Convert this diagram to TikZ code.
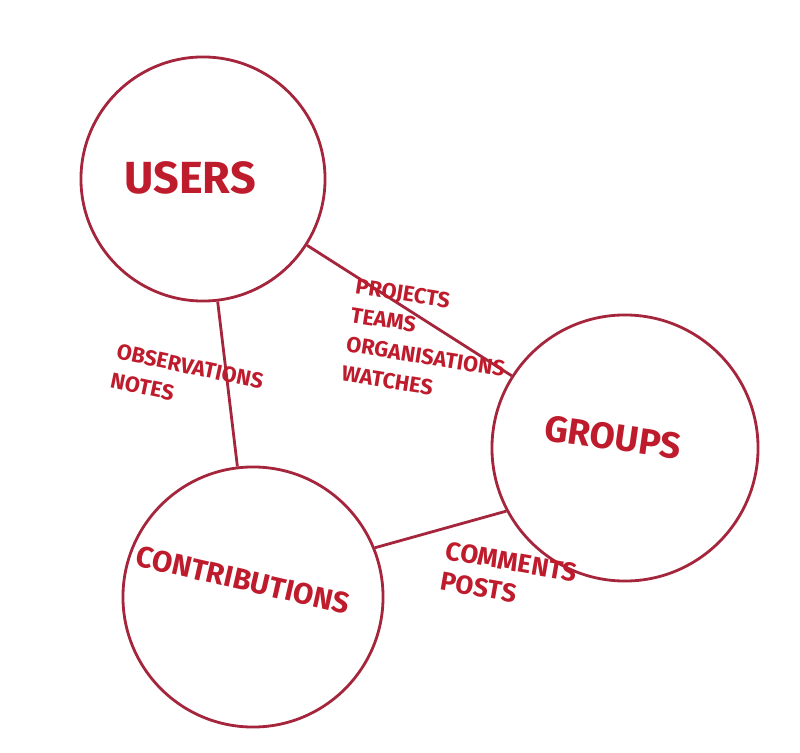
\documentclass[tikz,border=0pt]{standalone}
\usepackage{fontspec}
\setmainfont{Fira Sans}
\usetikzlibrary{positioning}
\definecolor{marker}{RGB}{165,38,60}
\definecolor{ink}{RGB}{190,28,45}
\begin{document}
\begin{tikzpicture}[x=0.025cm, y=-0.025cm]
 \tikzset{
entity/.style = {circle, draw=marker, line width=2pt, inner sep=0pt},
relation/.style = {draw=marker, line width=2pt},
bigtext/.style = {text=ink, font=\bfseries\fontsize{#1}{#1}\selectfont},
smalltext/.style = {text=ink, align=left, font=\bfseries\fontsize{15.5}{21}\selectfont}}

    \useasboundingbox (0,0) rectangle (800,753);
    % the three circles
    \node [entity, minimum size=6.1cm] (users) at (203,179) {};
    \node [entity, minimum size=6.65cm] (groups) at (625,448) {};
    \node [entity, minimum size=6.5cm] (contrib) at (253,597) {};

    \node [bigtext=32] (usersT) at (190,178) {USERS};
    \node [bigtext=26, rotate=-8] (groupsT) at (613,437) {GROUPS};
    \node [bigtext=21, rotate=-13] (contribT) at (243,580) {CONTRIBUTIONS};

    \draw [relation] (users) -- (contrib);
    \draw [relation] (users) -- (groups);
    \draw [relation] (contrib.22) -- (groups.208);

    \node [smalltext, rotate=-9] (ug) at (428,342) {PROJECTS\\TEAMS\\ORGANISATIONS\\WATCHES};
    \node [smalltext, rotate=-12] (uc) at (187,381) {OBSERVATIONS\\NOTES};
    \node [smalltext, rotate=-10, font=\bfseries\fontsize{18.5}{22}\selectfont] (cg) at (509,577) {COMMENTS\\POSTS};

  \end{tikzpicture}
\end{document}
